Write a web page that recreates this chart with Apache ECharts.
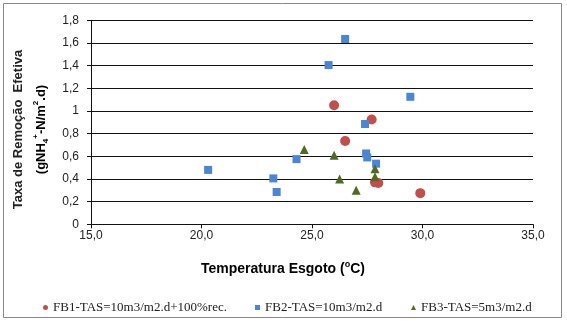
<!DOCTYPE html>
<html><head><meta charset="utf-8">
<script src="https://cdn.jsdelivr.net/npm/echarts@6/dist/echarts.min.js"></script>
<style>html,body{margin:0;padding:0;background:#fff}#c{width:567px;height:323px}</style>
</head><body><div id="c"></div>
<script>
// Series names
const seriesNames = ['FB1-TAS=10m3/m2.d+100%rec.', 'FB2-TAS=10m3/m2.d', 'FB3-TAS=5m3/m2.d'];
// FB1 (red circles)
const fb1X = [26.0, 27.7, 26.5, 27.85, 28.0, 29.9];
const fb1Y = [1.05, 0.925, 0.735, 0.37, 0.365, 0.275];
// FB2 (blue squares)
const fb2X = [20.3, 23.25, 23.4, 24.3, 25.75, 26.5, 27.4, 27.45, 27.5, 27.9, 29.45];
const fb2Y = [0.48, 0.405, 0.285, 0.575, 1.405, 1.635, 0.885, 0.625, 0.59, 0.535, 1.125];
// FB3 (green triangles)
const fb3X = [24.65, 26.0, 26.25, 27.0, 27.85, 27.85];
const fb3Y = [0.66, 0.61, 0.40, 0.30, 0.49, 0.42];
// Axis ranges
const xMin = 15, xMax = 35, xStep = 5;
const yMin = 0, yMax = 1.8, yStep = 0.2;

const zip = (xs, ys) => xs.map((x, i) => [x, ys[i]]);
const fmtY = v => (Math.abs(v - Math.round(v)) < 1e-9 ? String(Math.round(v)) : v.toFixed(1).replace('.', ','));
const fmtX = v => v.toFixed(1).replace('.', ',');

const chart = echarts.init(document.getElementById('c'), null, {renderer: 'canvas'});
const sans = 'Arial, "Liberation Sans", sans-serif';
const serif = '"Times New Roman", "Liberation Serif", serif';
const colors = ['#c0504d', '#4a86d4', '#4f6b22'];
const symbols = ['circle', 'rect', 'triangle'];
const sizes = [10, 8, 9];
const datas = [zip(fb1X, fb1Y), zip(fb2X, fb2Y), zip(fb3X, fb3Y)];
const legendLefts = [38, 250, 406];

chart.setOption({
  animation: false,
  backgroundColor: '#fff',
  grid: {left: 91, right: 34, top: 20.3, bottom: 98.7},
  xAxis: {
    type: 'value', min: xMin, max: xMax, interval: xStep,
    axisLine: {show: true, lineStyle: {color: '#111', width: 1}},
    axisTick: {show: true, inside: false, length: 4, lineStyle: {color: '#111'}},
    axisLabel: {formatter: fmtX, color: '#222', fontFamily: sans, fontSize: 12, margin: 5},
    splitLine: {show: false}
  },
  yAxis: {
    type: 'value', min: yMin, max: yMax, interval: yStep,
    axisLine: {show: true, lineStyle: {color: '#111', width: 1}},
    axisTick: {show: true, inside: false, length: 4, lineStyle: {color: '#111'}},
    axisLabel: {formatter: fmtY, color: '#222', fontFamily: sans, fontSize: 12, margin: 12},
    splitLine: {show: true, lineStyle: {color: '#111', width: 1}}
  },
  legend: legendLefts.map((l, i) => ({
    data: [seriesNames[i]], left: l, top: 296, itemWidth: 5, itemHeight: 5,
    textStyle: {fontFamily: serif, fontSize: 13, color: '#222'},
    selectedMode: false
  })),
  series: seriesNames.map((n, i) => ({
    name: n, type: 'scatter', data: datas[i], symbol: symbols[i], symbolSize: sizes[i],
    itemStyle: {color: colors[i], opacity: 1}, z: 3 + (i === 2 ? 1 : 0)
  })),
  graphic: [
    {type: 'rect', shape: {x: 3.5, y: 3.5, width: 558, height: 314}, style: {fill: 'none', stroke: '#888', lineWidth: 1}, silent: true, z: 0},
    {type: 'text', x: 283, y: 269, style: {
      text: '{b|Temperatura Esgoto (}{s|o}{b|C)}', align: 'center', verticalAlign: 'middle',
      rich: {b: {fontFamily: sans, fontWeight: 'bold', fontSize: 14, color: '#222', lineHeight: 18},
             s: {fontFamily: sans, fontWeight: 'bold', fontSize: 9, color: '#222', verticalAlign: 'top', lineHeight: 12}}
    }},
    {type: 'text', x: 18.5, y: 129.5, rotation: Math.PI / 2, style: {
      text: 'Taxa de Remoção  Efetiva', align: 'center', verticalAlign: 'middle',
      fontFamily: sans, fontWeight: 'bold', fontSize: 13, fill: '#222'
    }},
    {type: 'text', x: 41, y: 129.5, rotation: Math.PI / 2, style: {
      text: '{b|(gNH}{sub|4}{sup|+}{b|-N/m}{sup|2}{b|.d)}', align: 'center', verticalAlign: 'middle',
      rich: {b: {fontFamily: sans, fontWeight: 'bold', fontSize: 13, color: '#222', lineHeight: 18},
             sub: {fontFamily: sans, fontWeight: 'bold', fontSize: 8, color: '#222', verticalAlign: 'bottom', lineHeight: 10},
             sup: {fontFamily: sans, fontWeight: 'bold', fontSize: 8, color: '#222', verticalAlign: 'top', lineHeight: 12}}
    }}
  ]
});
</script></body></html>
